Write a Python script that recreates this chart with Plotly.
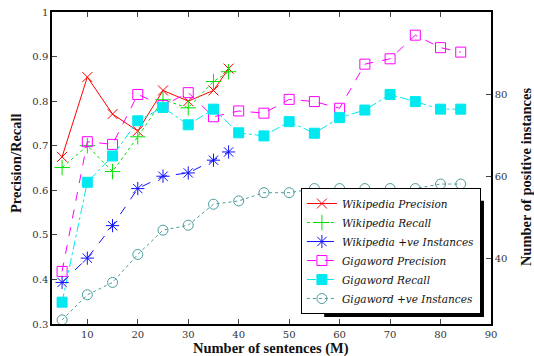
import plotly.graph_objects as go

wiki_x = [5, 10, 15, 20, 25, 30, 35, 38]
wiki_precision = [0.675, 0.854, 0.771, 0.733, 0.824, 0.800, 0.824, 0.873]
wiki_recall = [0.651, 0.700, 0.642, 0.720, 0.803, 0.785, 0.844, 0.866]
wiki_instances = [34.3, 40.2, 48.1, 57.1, 60.1, 60.9, 64.0, 66.0]

giga_x = [5, 10, 15, 20, 25, 30, 35, 40, 45, 50, 55, 60, 65, 70, 75, 80, 84]
giga_precision = [0.418, 0.709, 0.703, 0.815, 0.790, 0.819, 0.765, 0.778, 0.773,
                  0.804, 0.799, 0.784, 0.883, 0.895, 0.948, 0.920, 0.910]
giga_recall = [0.349, 0.618, 0.677, 0.756, 0.786, 0.747, 0.782, 0.729, 0.722,
               0.754, 0.728, 0.763, 0.780, 0.815, 0.799, 0.782, 0.782]
giga_instances = [25.2, 31.3, 34.3, 41.1, 47.0, 48.2, 53.3, 54.1, 56.1,
                  56.1, 57.1, 57.1, 57.1, 57.1, 57.1, 58.2, 58.2]

x_ticks = [10, 20, 30, 40, 50, 60, 70, 80, 90]
y_ticks = [0.3, 0.4, 0.5, 0.6, 0.7, 0.8, 0.9, 1.0]
y_ticktext = ["0.3", "0.4", "0.5", "0.6", "0.7", "0.8", "0.9", "1"]
y2_ticks = [40, 60, 80]

x_title = "Number of sentences (M)"
y_title = "Precision/Recall"
y2_title = "Number of positive instances"

SERIF = "DejaVu Serif"
TITLE_FONT = dict(family="Liberation Serif", size=14.5, weight="bold", color="#111")

fig = go.Figure()

def add(x, y, name, color, dash, symbol, size, axis="y", fill=None):
    fig.add_trace(go.Scatter(
        x=x, y=y, name=name, mode="lines+markers", yaxis=axis,
        line=dict(color=color, width=1, dash=dash),
        marker=dict(symbol=symbol, size=size, color=fill or color,
                    line=dict(color=color, width=1)),
    ))

add(wiki_x, wiki_precision, "Wikipedia Precision", "#ff0000", "solid", "x-thin-open", 10)
add(wiki_x, wiki_recall, "Wikipedia Recall", "#00e000", "dot", "cross-thin-open", 11)
add(wiki_x, wiki_instances, "Wikipedia +ve Instances", "#1010ff", "dash", "asterisk-open", 11, axis="y2")
add(giga_x, giga_precision, "Gigaword Precision", "#ff00ff", "dash", "square-open", 10)
add(giga_x, giga_recall, "Gigaword Recall", "#00e8f0", "dashdot", "square", 10)
add(giga_x, giga_instances, "Gigaword +ve Instances", "#4c9c9c", "dot", "circle-open", 10, axis="y2")

axis_common = dict(ticks="inside", ticklen=5, showline=True, linecolor="black",
                   linewidth=1.5, showgrid=False, zeroline=False, automargin=False)

fig.update_layout(
    width=534, height=356,
    margin=dict(l=52, r=43, t=12, b=32, autoexpand=False),
    paper_bgcolor="white", plot_bgcolor="white",
    font=dict(family=SERIF, size=10, color="#333"),
    xaxis=dict(range=[3, 90], tickvals=x_ticks, mirror="ticks", **axis_common),
    yaxis=dict(range=[0.3, 1.0], tickvals=y_ticks, ticktext=y_ticktext, **axis_common),
    yaxis2=dict(range=[24.2, 100], tickvals=y2_ticks, overlaying="y", side="right",
                **axis_common),
    legend=dict(x=0.977, y=0.032, xanchor="right", yanchor="bottom",
                bgcolor="white", bordercolor="black", borderwidth=1,
                font=dict(family=SERIF, size=10.5, style="italic", color="#111"),
                tracegroupgap=0, itemwidth=30),
    shapes=[dict(type="rect", xref="paper", yref="paper", layer="above",
                 x0=0.62, x1=0.984, y0=0.0224, y1=0.395,
                 fillcolor="black", line=dict(width=0))],
    annotations=[
        dict(text=x_title, xref="paper", yref="paper", x=0.4989, y=-0.077,
             showarrow=False, font=TITLE_FONT, xanchor="center", yanchor="middle"),
        dict(text=y_title, xref="paper", yref="paper", x=-0.082, y=0.516,
             showarrow=False, font=TITLE_FONT, textangle=-90,
             xanchor="center", yanchor="middle"),
        dict(text=y2_title, xref="paper", yref="paper", x=1.0797, y=0.474,
             showarrow=False, font=TITLE_FONT, textangle=-90,
             xanchor="center", yanchor="middle"),
    ],
    showlegend=True,
)

fig.write_html("out.html", config={"displayModeBar": False},
               post_script="document.body.style.margin='0';")
